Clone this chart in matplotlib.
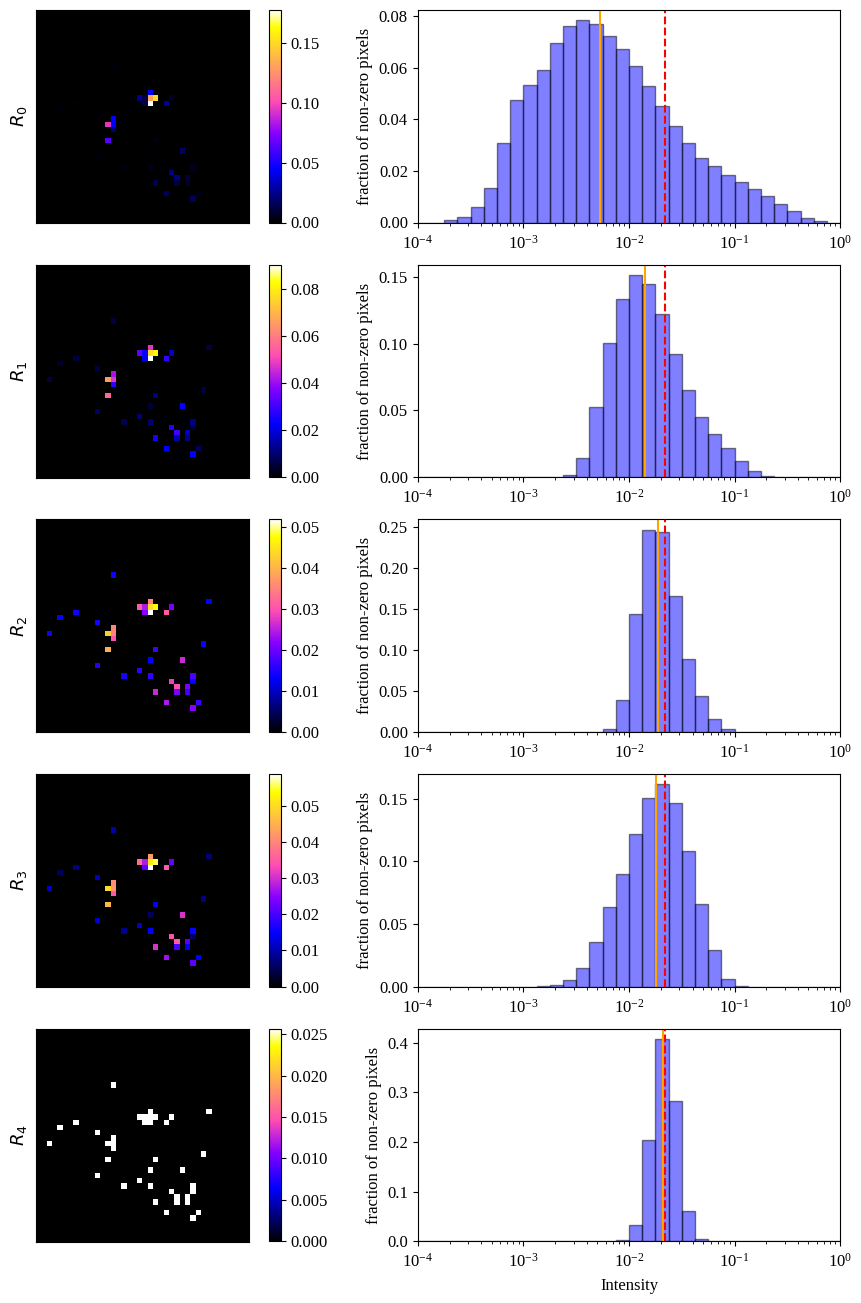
import numpy as np
import matplotlib
matplotlib.use('Agg')
import matplotlib.pyplot as plt

plt.rcParams['font.family'] = ['Liberation Serif', 'DejaVu Serif']
plt.rcParams['mathtext.fontset'] = 'stix'
plt.rcParams['font.size'] = 12

# 画素の位置 (40x40 グリッド)
rows = [10, 15, 15, 16, 16, 16, 16, 16, 17, 17, 17, 17, 18, 19, 20, 21, 21, 21, 22, 23,
        24, 24, 26, 26, 27, 28, 29, 29, 29, 30, 30, 31, 31, 32, 32, 32, 34, 34, 35]
cols = [14, 21, 32, 19, 20, 21, 22, 25, 7, 20, 21, 24, 4, 11, 14, 2, 13, 14, 14, 31,
        13, 22, 21, 27, 11, 19, 16, 21, 29, 25, 29, 26, 28, 22, 26, 28, 24, 30, 29]

# カラーバーの上限
vmax_list = [0.1777, 0.0902, 0.0518, 0.0587, 0.02565]

# 各画素の強度 (上限に対する割合)
r0_frac = [0.012, 0.25, 0.01, 0.14, 0.07, 0.74, 0.85, 0.04, 0.008, 0.07, 1.0, 0.15, 0.008, 0.012, 0.25,
           0.01, 0.53, 0.24, 0.12, 0.01, 0.36, 0.02, 0.01, 0.10, 0.012, 0.012, 0.012, 0.025, 0.035,
           0.14, 0.015, 0.13, 0.06, 0.09, 0.06, 0.04, 0.09, 0.03, 0.09]
r1_frac = [0.07, 0.53, 0.07, 0.37, 0.26, 0.85, 0.90, 0.20, 0.06, 0.24, 1.0, 0.32, 0.05, 0.07, 0.46,
           0.07, 0.72, 0.53, 0.31, 0.07, 0.62, 0.13, 0.06, 0.26, 0.10, 0.12, 0.08, 0.11, 0.13,
           0.30, 0.07, 0.33, 0.18, 0.27, 0.17, 0.14, 0.25, 0.09, 0.25]
r2_frac = [0.27, 0.68, 0.25, 0.60, 0.47, 0.85, 0.92, 0.40, 0.27, 0.42, 1.0, 0.60, 0.26, 0.28, 0.68,
           0.27, 0.82, 0.68, 0.58, 0.26, 0.76, 0.33, 0.25, 0.50, 0.29, 0.31, 0.28, 0.32, 0.35,
           0.55, 0.25, 0.58, 0.40, 0.50, 0.40, 0.33, 0.47, 0.33, 0.42]
r3_frac = [0.17, 0.72, 0.12, 0.63, 0.47, 0.88, 0.94, 0.38, 0.13, 0.37, 1.0, 0.60, 0.09, 0.19, 0.70,
           0.19, 0.84, 0.72, 0.59, 0.13, 0.78, 0.24, 0.10, 0.52, 0.20, 0.20, 0.14, 0.25, 0.26,
           0.58, 0.10, 0.60, 0.36, 0.52, 0.34, 0.25, 0.45, 0.25, 0.37]
r4_frac = [1.0] * len(rows)
frac_list = [r0_frac, r1_frac, r2_frac, r3_frac, r4_frac]

# ヒストグラム: 1桁あたり8ビン, (最初のビン番号, 高さ)
hist_start = [2, 11, 14, 9, 15]
r0_hist = [0.0008, 0.0022, 0.0061, 0.0135, 0.031, 0.0475, 0.0532, 0.059, 0.0695, 0.0762, 0.0785,
           0.0769, 0.0722, 0.0672, 0.0606, 0.0528, 0.045, 0.0376, 0.031, 0.0252, 0.022, 0.0185,
           0.0158, 0.0131, 0.0104, 0.0073, 0.0045, 0.0018, 0.0004]
r1_hist = [0.002, 0.0143, 0.0526, 0.1004, 0.1337, 0.1515, 0.1447, 0.1222, 0.0922, 0.0651, 0.0448,
           0.032, 0.0215, 0.0118, 0.0043, 0.0008]
r2_hist = [0.0033, 0.0393, 0.1444, 0.2475, 0.245, 0.1665, 0.0892, 0.0438, 0.0155, 0.0033]
r3_hist = [0.0005, 0.0013, 0.0053, 0.015, 0.0358, 0.0632, 0.0897, 0.1214, 0.1503, 0.1615, 0.1463,
           0.1086, 0.0662, 0.0294, 0.0061, 0.0005]
r4_hist = [0.002, 0.0336, 0.2047, 0.408, 0.2832, 0.0617, 0.0054]
hist_list = [r0_hist, r1_hist, r2_hist, r3_hist, r4_hist]

# 縦線
median_list = [0.00532, 0.01415, 0.0188, 0.01803, 0.0211]
mean_value = 0.0219

W, H = 861, 1303
edges = np.logspace(-4, 0, 33)


def px_axes(fig, left, top, right, bottom):
    return fig.add_axes([left / W, 1 - bottom / H, (right - left) / W, (bottom - top) / H])


fig = plt.figure(figsize=(W / 100, H / 100), dpi=100)

for i in range(5):
    top = 10.0 + 254.7 * i
    bottom = top + 212.5

    # 左: 画像とカラーバー
    img = np.zeros((40, 40))
    for r, c, f in zip(rows, cols, frac_list[i]):
        img[r, c] = f * vmax_list[i]
    ax_img = px_axes(fig, 36, top, 249, top + 213)
    ax_img.set_facecolor('black')
    im = ax_img.imshow(img, cmap='gnuplot2', vmin=0, vmax=vmax_list[i],
                       interpolation='nearest', aspect='auto')
    ax_img.set_xticks([])
    ax_img.set_yticks([])
    ax_img.set_ylabel(f'$R_{i}$', fontsize=13, math_fontfamily='dejavusans', labelpad=5)
    cax = px_axes(fig, 269, top, 280.5, bottom)
    fig.colorbar(im, cax=cax)

    # 右: ヒストグラム
    ax = px_axes(fig, 417.7, top, 840.3, bottom)
    heights = np.zeros(32)
    heights[hist_start[i]:hist_start[i] + len(hist_list[i])] = hist_list[i]
    ax.bar(edges[:-1], heights, width=np.diff(edges), align='edge',
           color='blue', edgecolor='black', alpha=0.5)
    ax.axvline(median_list[i], color='orange', linewidth=1.5)
    ax.axvline(mean_value, color='red', linestyle='--', linewidth=1.5)
    ax.set_xscale('log')
    ax.set_xlim(1e-4, 1)
    ax.tick_params(axis='x', which='major', pad=5)
    ax.set_ylabel('fraction of non-zero pixels')
    if i == 4:
        ax.set_xlabel('Intensity', labelpad=5)

fig.savefig('out.png', dpi=100)
